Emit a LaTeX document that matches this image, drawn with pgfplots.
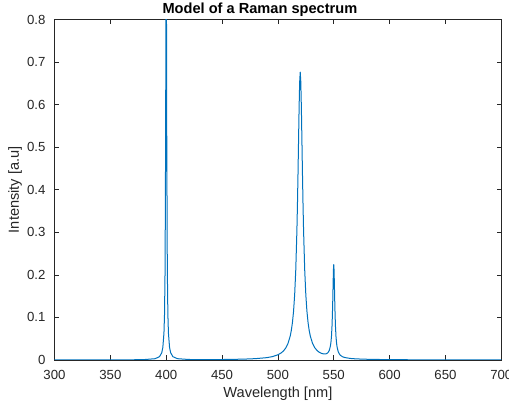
\documentclass[border=0pt]{standalone}
\usepackage{fontspec}
\setmainfont{Liberation Sans}
\usepackage{pgfplots}
\pgfplotsset{compat=1.18}
\definecolor{mblue}{RGB}{0,114,189}
\definecolor{axgray}{RGB}{38,38,38}
\begin{document}
\begin{tikzpicture}
\begin{axis}[
  scale only axis,
  width=446.8pt, height=340.5pt,
  xmin=300, xmax=700, ymin=0, ymax=0.8,
  xtick={300,350,...,700},
  ytick={0,0.1,...,0.8},
  yticklabels={0,0.1,0.2,0.3,0.4,0.5,0.6,0.7,0.8},
  tick align=inside,
  major tick length=4.5pt,
  minor tick num=0,
  axis line style={axgray, line width=0.6pt},
  every tick/.style={axgray, line width=0.6pt},
  tick label style={font=\fontsize{13.2}{15}\selectfont, text=axgray},
  /pgf/number format/assume math mode=true,
  /pgf/number format/fixed,
  xticklabel style={anchor=base, yshift=-19.5pt},
  yticklabel style={anchor=east, inner sep=0pt, xshift=-8.8pt},
  xlabel={Wavelength [nm]},
  ylabel={Intensity [a.u]},
  label style={font=\fontsize{14.6}{17}\selectfont, text=axgray},
  xlabel style={at={(axis description cs:0.5,0)}, anchor=base, yshift=-37.3pt},
  ylabel style={at={(axis description cs:0,0.5)}, anchor=center, yshift=39.5pt},
  every axis title shift=0pt,
  title={Model of a Raman spectrum},
  title style={font=\fontsize{14.6}{17}\selectfont\bfseries, at={(axis description cs:0.5,1)}, anchor=base, yshift=6.5pt, xshift=-18pt},
]
\addplot[mblue, line width=1pt, line join=round, no markers] coordinates {
(300,0.00013) (350,0.00028) (370,0.00052) (380,0.00093) (390,0.0030)
(394,0.0078) (396,0.0169) (397,0.0295) (398,0.0636) (398.5,0.1074)
(399,0.2129) (399.5,0.5195) (399.75,0.8123) (400,1.0003) (400.25,0.8123)
(400.5,0.5195) (401,0.2129) (401.5,0.1074) (402,0.0636) (403,0.0296)
(404,0.0170) (406,0.0078) (410,0.0031) (420,0.0012) (430,0.0009)
(440,0.0009) (450,0.0011) (460,0.0015) (470,0.0021) (480,0.0032)
(490,0.0055) (495,0.0079) (500,0.0122) (503,0.0168) (505,0.0213)
(507,0.0281) (509,0.0386) (511,0.0560) (512,0.0693) (513,0.0877)
(514,0.1140) (515,0.1528) (516,0.2118) (517,0.3027) (517.5,0.3642)
(518,0.4367) (518.5,0.5168) (519,0.5947) (519.5,0.6538) (520,0.6763)
(520.5,0.6539) (521,0.5948) (521.5,0.5169) (522,0.4368) (522.5,0.3643)
(523,0.3029) (524,0.2120) (525,0.1530) (526,0.1143) (527,0.0881)
(528,0.0697) (529,0.0564) (531,0.0391) (533,0.0289) (535,0.0224)
(537,0.0182) (539,0.0156) (541,0.0142) (542,0.0141) (543,0.0145)
(544,0.0156) (545,0.0179) (546,0.0226) (547,0.0326) (547.5,0.0419)
(548,0.0570) (548.5,0.0825) (549,0.1255) (549.5,0.1868) (549.75,0.2134)
(550,0.2240) (550.25,0.2132) (550.5,0.1865) (551,0.1248) (551.5,0.0814)
(552,0.0556) (552.5,0.0401) (553,0.0304) (554,0.0196) (555,0.0141)
(556,0.0109) (558,0.0075) (560,0.0057) (565,0.0036) (570,0.0026)
(580,0.0017) (590,0.0012) (600,0.0009) (620,0.0005) (650,0.0003)
(700,0.0002)
};
\end{axis}
\pgfresetboundingbox
\path[use as bounding box] (-54.5pt,-46pt) rectangle (454.5pt,360pt);
\end{tikzpicture}
\end{document}
